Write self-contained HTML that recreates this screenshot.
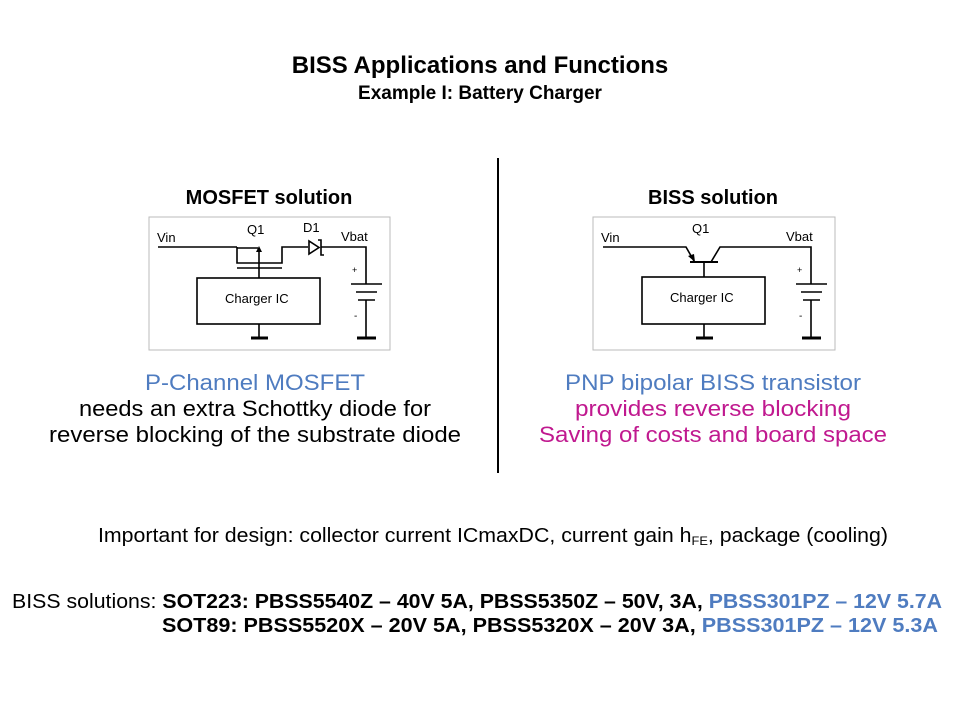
<!DOCTYPE html>
<html><head><meta charset="utf-8"><style>body{margin:0;background:#fff}svg{display:block}</style></head><body>
<svg width="960" height="720" viewBox="0 0 960 720" xmlns="http://www.w3.org/2000/svg" font-family="Liberation Sans, Arial, sans-serif">
<rect width="960" height="720" fill="#fff"/>
<text x="480" y="73" font-size="24" font-weight="bold" text-anchor="middle">BISS Applications and Functions</text>
<text x="480" y="99" font-size="19" font-weight="bold" text-anchor="middle">Example I: Battery Charger</text>
<text x="269" y="204" font-size="20" font-weight="bold" text-anchor="middle">MOSFET solution</text>
<text x="713" y="204" font-size="20" font-weight="bold" text-anchor="middle">BISS solution</text>
<line x1="498" y1="158" x2="498" y2="473" stroke="#000" stroke-width="2"/>

<g stroke="#000" stroke-width="1.6" fill="none">
<rect x="149" y="217" width="241" height="133" stroke="#bbb" stroke-width="1"/>
<line x1="158" y1="247" x2="237" y2="247"/>
<polyline points="237,247 237,263 282,263 282,247 308,247"/>
<line x1="237" y1="248" x2="258" y2="248"/>
<line x1="237" y1="268" x2="282" y2="268"/>
<line x1="259" y1="248" x2="259" y2="278"/>
<rect x="197" y="278" width="123" height="46"/>
<line x1="259" y1="324" x2="259" y2="338"/>
<line x1="251" y1="338" x2="268" y2="338" stroke-width="3"/>
<polygon points="309,241 309,254 319,247.5" fill="#fff"/>
<polyline points="318,240 321,240 321,255 324,255"/>
<polyline points="321,247 366,247 366,284"/>
<line x1="351" y1="284" x2="382" y2="284"/>
<line x1="356" y1="292" x2="377" y2="292"/>
<line x1="358" y1="300" x2="375" y2="300"/>
<line x1="366" y1="300" x2="366" y2="338"/>
<line x1="357" y1="338" x2="376" y2="338" stroke-width="3"/>
</g>
<polygon points="259,246 256,252 262,252" fill="#000"/>
<g font-size="13">
<text x="157" y="242">Vin</text><text x="247" y="234">Q1</text><text x="303" y="232">D1</text><text x="341" y="241">Vbat</text>
<text x="225" y="303">Charger IC</text>
</g>
<text x="352" y="273" font-size="9">+</text><text x="354" y="319" font-size="10">-</text>

<g stroke="#000" stroke-width="1.6" fill="none">
<rect x="593" y="217" width="242" height="133" stroke="#bbb" stroke-width="1"/>
<polyline points="603,247 686,247 694,261"/>
<line x1="690" y1="262" x2="718" y2="262" stroke-width="2"/>
<polyline points="711,262 720,247 811,247 811,284"/>
<line x1="704" y1="262" x2="704" y2="277"/>
<rect x="642" y="277" width="123" height="47"/>
<line x1="704" y1="324" x2="704" y2="338"/>
<line x1="696" y1="338" x2="713" y2="338" stroke-width="3"/>
<line x1="796" y1="284" x2="827" y2="284"/>
<line x1="801" y1="292" x2="822" y2="292"/>
<line x1="803" y1="300" x2="820" y2="300"/>
<line x1="811" y1="300" x2="811" y2="338"/>
<line x1="802" y1="338" x2="821" y2="338" stroke-width="3"/>
</g>
<polygon points="695,262 688,256 694,254" fill="#000"/>
<g font-size="13">
<text x="601" y="242">Vin</text><text x="692" y="233">Q1</text><text x="786" y="241">Vbat</text>
<text x="670" y="302">Charger IC</text>
</g>
<text x="797" y="273" font-size="9">+</text><text x="799" y="319" font-size="10">-</text>

<g font-size="22" text-anchor="middle">
<text x="255" y="390" fill="#4F7CC0" textLength="220" lengthAdjust="spacingAndGlyphs">P-Channel MOSFET</text>
<text x="255" y="416" textLength="352" lengthAdjust="spacingAndGlyphs">needs an extra Schottky diode for</text>
<text x="255" y="442" textLength="412" lengthAdjust="spacingAndGlyphs">reverse  blocking of the substrate diode</text>
<text x="713" y="390" fill="#4F7CC0" textLength="296" lengthAdjust="spacingAndGlyphs">PNP bipolar BISS transistor</text>
<text x="713" y="416" fill="#C0198F" textLength="276" lengthAdjust="spacingAndGlyphs">provides reverse  blocking</text>
<text x="713" y="442" fill="#C0198F" textLength="348" lengthAdjust="spacingAndGlyphs">Saving of costs and board space</text>
</g>
<text x="98" y="542" font-size="20" textLength="790" lengthAdjust="spacingAndGlyphs">Important  for design: collector current ICmaxDC,  current gain h<tspan font-size="12" dy="3">FE</tspan><tspan dy="-3">, package (cooling)</tspan></text>
<text x="12" y="608" font-size="20" textLength="930" lengthAdjust="spacingAndGlyphs">BISS solutions: <tspan font-weight="bold">SOT223: PBSS5540Z – 40V 5A, PBSS5350Z – 50V, 3A, </tspan><tspan font-weight="bold" fill="#4F7CC0">PBSS301PZ – 12V 5.7A</tspan></text>
<text x="162" y="632" font-size="20" font-weight="bold" textLength="776" lengthAdjust="spacingAndGlyphs">SOT89:   PBSS5520X – 20V 5A, PBSS5320X – 20V 3A, <tspan fill="#4F7CC0">PBSS301PZ – 12V 5.3A</tspan></text>
</svg>
</body></html>
